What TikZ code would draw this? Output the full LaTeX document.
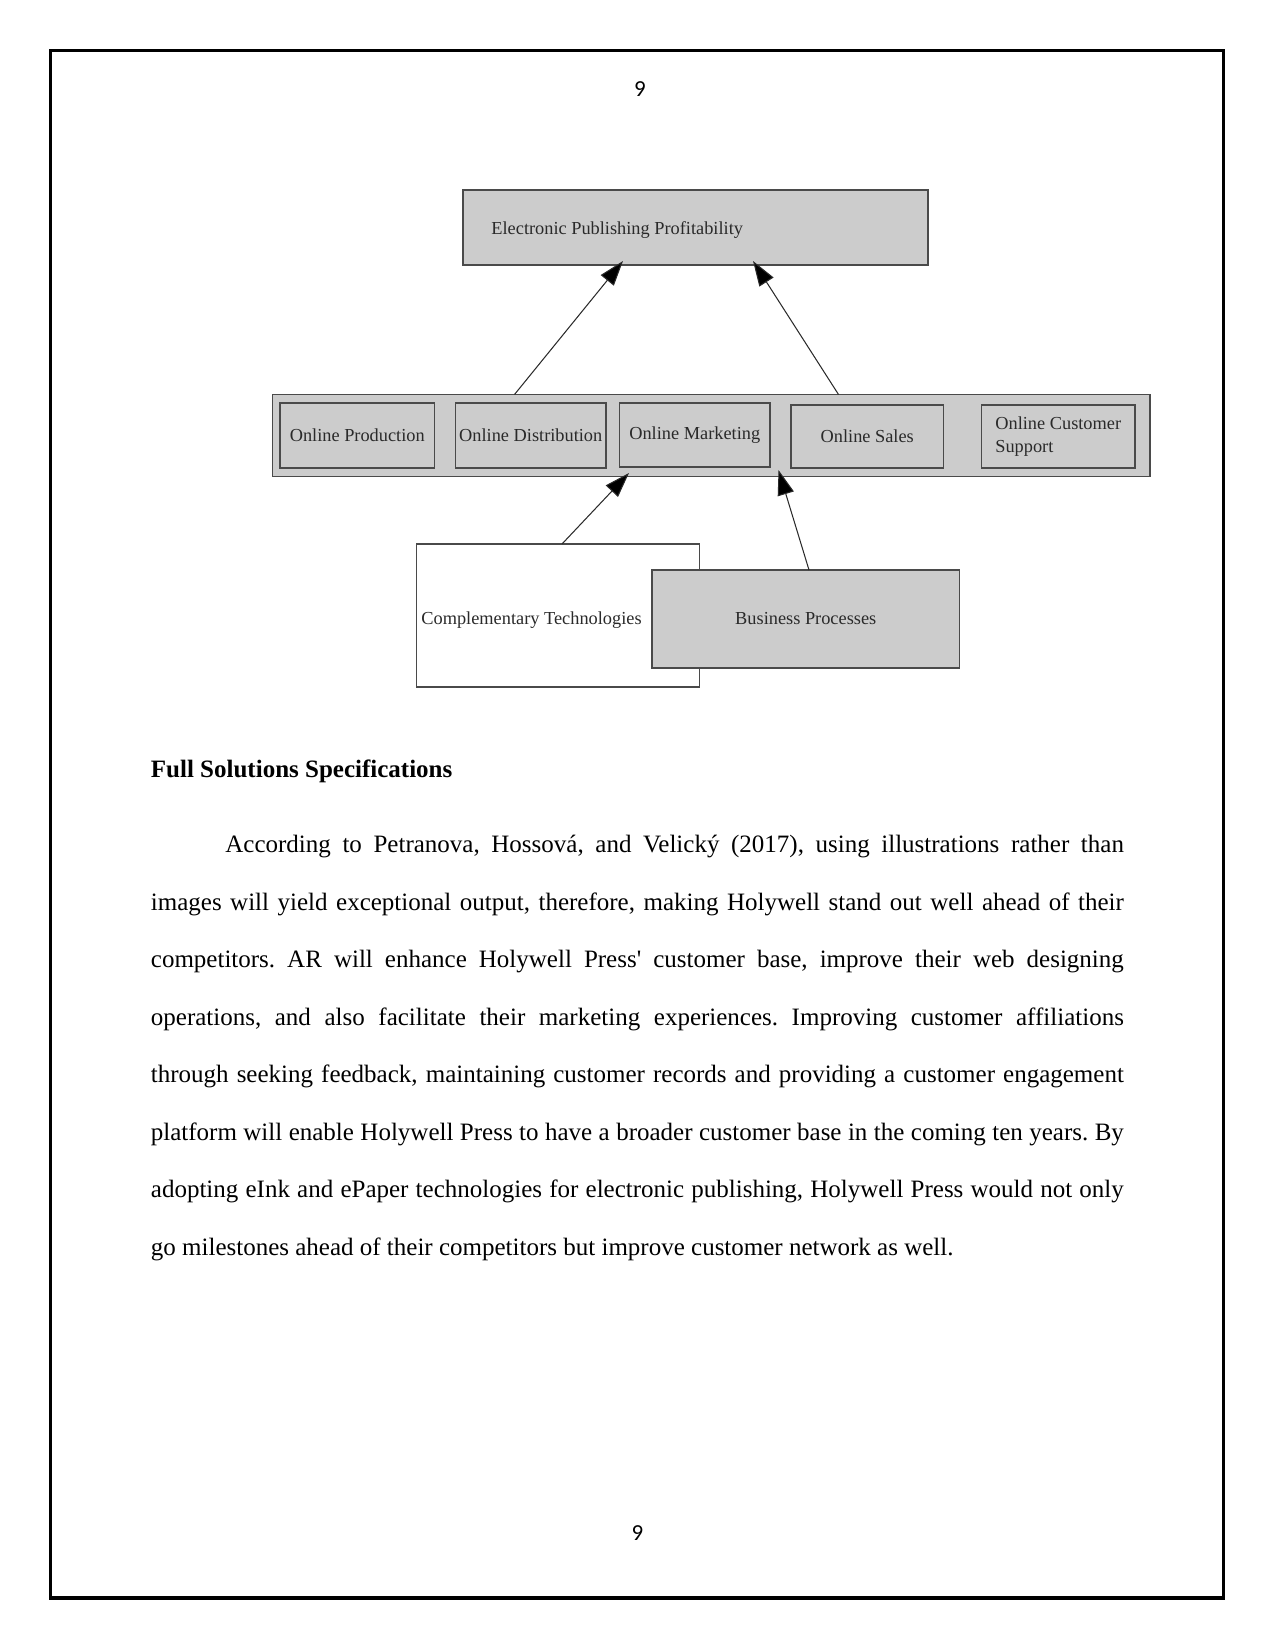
\documentclass[tikz,border=0pt]{standalone}
\usepackage{fontspec}
\setmainfont{Liberation Serif}[Ligatures=TeXOff]
\newfontfamily\numfont{Carlito}
\usetikzlibrary{arrows.meta}
\definecolor{boxgray}{HTML}{CCCCCC}
\definecolor{edgegray}{HTML}{4A4A4A}
\definecolor{ink}{HTML}{2A2A2A}
\frenchspacing
\begin{document}
\begin{tikzpicture}[x=0.48pt,y=-0.48pt,
  gbox/.style={draw=edgegray, fill=boxgray, line width=0.8pt, inner sep=0pt},
  wbox/.style={draw=edgegray, fill=white, line width=0.8pt, inner sep=0pt},
  lbl/.style={font=\fontsize{8.8}{11}\selectfont, text=ink, inner sep=0pt},
  arr/.style={draw=ink, line width=0.5pt, -{Triangle[length=12pt,width=8pt,fill=black]}},
  body/.style={font=\fontsize{12}{14}\selectfont, inner sep=0pt, anchor=base west},
  pnum/.style={font=\numfont\fontsize{11}{13}\selectfont, inner sep=0pt},
]
\useasboundingbox (0,0) rectangle (1275,1650);
% page frame
\node[draw=black, line width=1.5pt, minimum width=563.04pt, minimum height=742.8pt, inner sep=0pt] (frame) at (637,824.25) {};
\node[pnum] (pn1) at (640,89) {9};
\node[pnum] (pn2) at (637.5,1533) {9};

% top box
\node[gbox, minimum width=223.2pt, minimum height=36pt] (top) at (695.5,227.5) {};
\node[lbl, anchor=west] (toptext) at (491,230) {Electronic Publishing Profitability};

% middle band
\node[gbox, minimum width=421.2pt, minimum height=39.36pt] (mid) at (711.25,435.5) {};
\node[gbox, lbl, minimum width=74.16pt, minimum height=31.2pt] (op) at (357.25,435.5) {Online Production};
\node[gbox, lbl, minimum width=72.24pt, minimum height=31.2pt] (od) at (530.75,435.5) {Online Distribution};
\node[gbox, lbl, minimum width=72.24pt, minimum height=30.72pt] (om) at (694.75,435) {Online Marketing};
\node[gbox, lbl, minimum width=73.2pt, minimum height=30.24pt] (os) at (867.25,436.5) {Online Sales};
\node[gbox, lbl, align=left, minimum width=73.68pt, minimum height=30.24pt] (ocs) at (1058.25,436.5) {Online Customer\\Support};

% bottom boxes
\node[wbox, minimum width=135.84pt, minimum height=68.64pt] (ct) at (558,615.5) {};
\node[lbl, anchor=west] (cttext) at (421,620.5) {Complementary Technologies};
\node[gbox, lbl, minimum width=147.6pt, minimum height=47.04pt] (bp) at (805.75,619) {Business Processes};

% connector ends
\coordinate (a1s) at (514.5,394.5);
\coordinate (a1e) at (623,261);
\coordinate (a2s) at (838.5,394.5);
\coordinate (a2e) at (753,261);
\coordinate (a3s) at (562,544);
\coordinate (a3e) at (629,473);
\coordinate (a4s) at (809,570);
\coordinate (a4e) at (778.5,470);
\draw[arr] (a1s) -- (a1e);
\draw[arr] (a2s) -- (a2e);
\draw[arr] (a3s) -- (a3e);
\draw[arr] (a4s) -- (a4e);

% text
\node[body, font=\fontsize{12}{14}\selectfont\bfseries] (head) at (150.5,777) {Full Solutions Specifications};
\node[body] (l1) at (225,852.5) {\makebox[431.3pt][s]{According to Petranova, Hossová, and Velický (2017), using illustrations rather than}};
\node[body] (l2) at (150.5,910.05) {\makebox[467pt][s]{images will yield exceptional output, therefore, making Holywell stand out well ahead of their}};
\node[body] (l3) at (150.5,967.6) {\makebox[467pt][s]{competitors. AR will enhance Holywell Press' customer base, improve their web designing}};
\node[body] (l4) at (150.5,1025.15) {\makebox[467pt][s]{operations, and also facilitate their marketing experiences. Improving customer affiliations}};
\node[body] (l5) at (150.5,1082.7) {\makebox[467pt][s]{through seeking feedback, maintaining customer records and providing a customer engagement}};
\node[body] (l6) at (150.5,1140.25) {\makebox[467pt][s]{platform will enable Holywell Press to have a broader customer base in the coming ten years. By}};
\node[body] (l7) at (150.5,1197.8) {\makebox[467pt][s]{adopting eInk and ePaper technologies for electronic publishing, Holywell Press would not only}};
\node[body] (l8) at (150.5,1255.35) {go milestones ahead of their competitors but improve customer network as well.};
\end{tikzpicture}
\end{document}
